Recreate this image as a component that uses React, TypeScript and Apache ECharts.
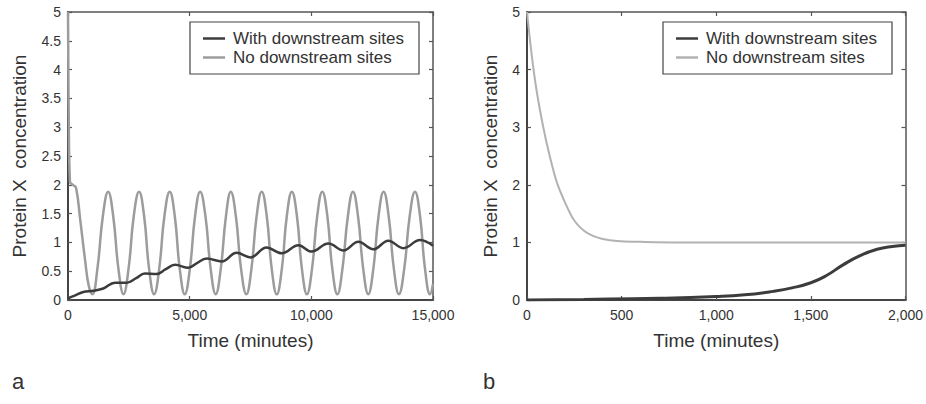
import React, { useEffect, useRef } from "react";
import * as echarts from "echarts";

// ---- Panel a (0–15,000 min) ----
const seriesNames = ["With downstream sites", "No downstream sites"];
const panelLabels = ["a", "b"];

const aWith: [number, number][] = [
  [0, 0.03], [300, 0.08], [630, 0.14], [1040, 0.16], [1450, 0.2], [1930, 0.3],
  [2410, 0.3], [2800, 0.38], [3160, 0.46], [3640, 0.45], [4000, 0.53], [4400, 0.61],
  [4950, 0.56], [5300, 0.64], [5700, 0.72], [6320, 0.67], [6930, 0.82], [7500, 0.74],
  [8160, 0.91], [8780, 0.81], [9470, 0.95], [10010, 0.84], [10700, 0.98], [11320, 0.86],
  [11930, 1.01], [12550, 0.88], [13160, 1.03], [13780, 0.9], [14470, 1.04], [15000, 0.94],
];

const aNo: [number, number][] = [
  [0, 5.0], [30, 3.2], [80, 2.05], [200, 2.0], [330, 1.95], [500, 1.4], [700, 0.7], [850, 0.25],
  [1000, 0.1], [1210, 0.55], [1430, 1.45], [1650, 1.88],
  [1860, 1.45], [2070, 0.55], [2280, 0.1],
  [2490, 0.55], [2700, 1.45], [2920, 1.88],
  [3130, 1.45], [3330, 0.55], [3540, 0.1],
  [3750, 0.55], [3960, 1.45], [4180, 1.88],
  [4390, 1.45], [4590, 0.55], [4800, 0.1],
  [5010, 0.55], [5220, 1.45], [5430, 1.88],
  [5650, 1.45], [5860, 0.55], [6070, 0.1],
  [6280, 0.55], [6490, 1.45], [6690, 1.88],
  [6900, 1.45], [7110, 0.55], [7330, 0.1],
  [7540, 0.55], [7750, 1.45], [7960, 1.88],
  [8170, 1.45], [8370, 0.55], [8580, 0.1],
  [8790, 0.55], [8990, 1.45], [9200, 1.88],
  [9410, 1.45], [9610, 0.55], [9820, 0.1],
  [10030, 0.55], [10240, 1.45], [10450, 1.88],
  [10660, 1.45], [10860, 0.55], [11070, 0.1],
  [11280, 0.55], [11500, 1.45], [11710, 1.88],
  [11920, 1.45], [12130, 0.55], [12340, 0.1],
  [12550, 0.55], [12760, 1.45], [12970, 1.88],
  [13180, 1.45], [13390, 0.55], [13600, 0.1],
  [13820, 0.55], [14040, 1.45], [14260, 1.88],
  [14470, 1.45], [14670, 0.55], [14880, 0.1],
  [15000, 0.28],
];

// ---- Panel b (0–2,000 min) ----
const bWith: [number, number][] = [
  [0, 0.0], [300, 0.01], [700, 0.03], [1000, 0.06], [1150, 0.09], [1300, 0.15], [1400, 0.21],
  [1500, 0.3], [1580, 0.42], [1670, 0.61], [1760, 0.77], [1850, 0.88], [1930, 0.93], [2000, 0.95],
];

const bNo: [number, number][] = [
  [0, 5.0], [25, 4.25], [50, 3.65], [86, 3.0], [120, 2.5], [157, 2.05], [200, 1.7],
  [250, 1.38], [315, 1.17], [400, 1.06], [500, 1.02], [600, 1.01], [800, 1.0], [2000, 1.0],
];

const aXTicks = { min: 0, max: 15000, interval: 5000 };
const aYTicks = { min: 0, max: 5, interval: 0.5 };
const bXTicks = { min: 0, max: 2000, interval: 500 };
const bYTicks = { min: 0, max: 5, interval: 1 };

const xName = "Time (minutes)";
const yName = "Protein X  concentration";

const FONT = "Liberation Sans, Arial, Helvetica, sans-serif";
const DARK = "#3c3c3c";
const GRAY = "#9c9c9c";
const GRAY_B = "#b2b2b2";

export default function App() {
  const ref = useRef<HTMLDivElement>(null);

  useEffect(() => {
    if (!ref.current) return;
    const chart = echarts.init(ref.current, undefined, { renderer: "svg" });

    const fmt = (v: number) => v.toLocaleString("en-US");

    const mainAxisLine = { show: true, onZero: false, lineStyle: { color: "#444", width: 2 } };
    const mirrorAxisLine = { show: true, onZero: false, lineStyle: { color: "#555", width: 1.5 } };
    const tick = { show: true, inside: true, length: 4, lineStyle: { color: "#555", width: 1.2 } };
    const labelStyle = { color: "#333", fontSize: 14, fontFamily: FONT };
    const nameStyle = { color: "#333", fontSize: 19, fontFamily: FONT };

    const makeX = (grid: number, t: any, top: boolean) => ({
      type: "value",
      gridIndex: grid,
      position: top ? "top" : "bottom",
      min: t.min,
      max: t.max,
      interval: t.interval,
      axisLine: top ? mirrorAxisLine : mainAxisLine,
      axisTick: tick,
      splitLine: { show: false },
      axisLabel: top ? { show: false } : { ...labelStyle, margin: 8, formatter: fmt },
      name: top ? "" : xName,
      nameLocation: "middle",
      nameGap: 31,
      nameTextStyle: nameStyle,
    });

    const makeY = (grid: number, t: any, right: boolean, gap: number) => ({
      type: "value",
      gridIndex: grid,
      position: right ? "right" : "left",
      min: t.min,
      max: t.max,
      interval: t.interval,
      axisLine: right ? mirrorAxisLine : mainAxisLine,
      axisTick: tick,
      splitLine: { show: false },
      axisLabel: right ? { show: false } : { ...labelStyle, margin: 7 },
      name: right ? "" : yName,
      nameLocation: "middle",
      nameGap: gap,
      nameRotate: 90,
      nameTextStyle: nameStyle,
    });

    const line = (name: string, data: [number, number][], idx: number, color: string, width: number, smooth: number) => ({
      type: "line",
      name,
      data,
      xAxisIndex: idx,
      yAxisIndex: idx,
      showSymbol: false,
      symbol: "none",
      smooth,
      lineStyle: { color, width },
      itemStyle: { color },
      z: name === seriesNames[0] ? 3 : 2,
    });

    const legendBase = {
      orient: "vertical",
      top: 22,
      icon: "rect",
      itemWidth: 22,
      itemHeight: 2.5,
      itemGap: 2,
      padding: [8, 15, 8, 13],
      borderColor: "#444",
      borderWidth: 1.2,
      backgroundColor: "#fff",
      selectedMode: false,
      textStyle: { color: "#333", fontSize: 17, fontFamily: FONT, padding: [0, 0, 0, 3] },
    };

    chart.setOption({
      animation: false,
      backgroundColor: "#fff",
      grid: [
        { left: 68, top: 12, width: 365, height: 288 },
        { left: 527, top: 12, width: 379, height: 288 },
      ],
      xAxis: [makeX(0, aXTicks, false), makeX(1, bXTicks, false), makeX(0, aXTicks, true), makeX(1, bXTicks, true)],
      yAxis: [makeY(0, aYTicks, false, 39), makeY(1, bYTicks, false, 27), makeY(0, aYTicks, true, 0), makeY(1, bYTicks, true, 0)],
      legend: [
        {
          ...legendBase,
          left: 190,
          data: [
            { name: seriesNames[0], itemStyle: { color: DARK } },
            { name: seriesNames[1], itemStyle: { color: GRAY } },
          ],
        },
        {
          ...legendBase,
          left: 663,
          data: [
            { name: seriesNames[0], itemStyle: { color: DARK } },
            { name: seriesNames[1], itemStyle: { color: GRAY_B } },
          ],
        },
      ],
      series: [
        line(seriesNames[1], aNo, 0, GRAY, 2.5, 0.45),
        line(seriesNames[0], aWith, 0, DARK, 2.5, 0.4),
        line(seriesNames[1], bNo, 1, GRAY_B, 2, 0.3),
        line(seriesNames[0], bWith, 1, DARK, 3, 0.5),
      ],
      graphic: [
        { type: "text", left: 12, top: 370, style: { text: panelLabels[0], fontSize: 22, fontFamily: FONT, fill: "#333" } },
        { type: "text", left: 483, top: 370, style: { text: panelLabels[1], fontSize: 22, fontFamily: FONT, fill: "#333" } },
      ],
    });

    return () => chart.dispose();
  }, []);

  return (
    <div
      ref={ref}
      style={{ position: "fixed", left: 0, top: 0, width: 926, height: 404, background: "#fff" }}
    />
  );
}
